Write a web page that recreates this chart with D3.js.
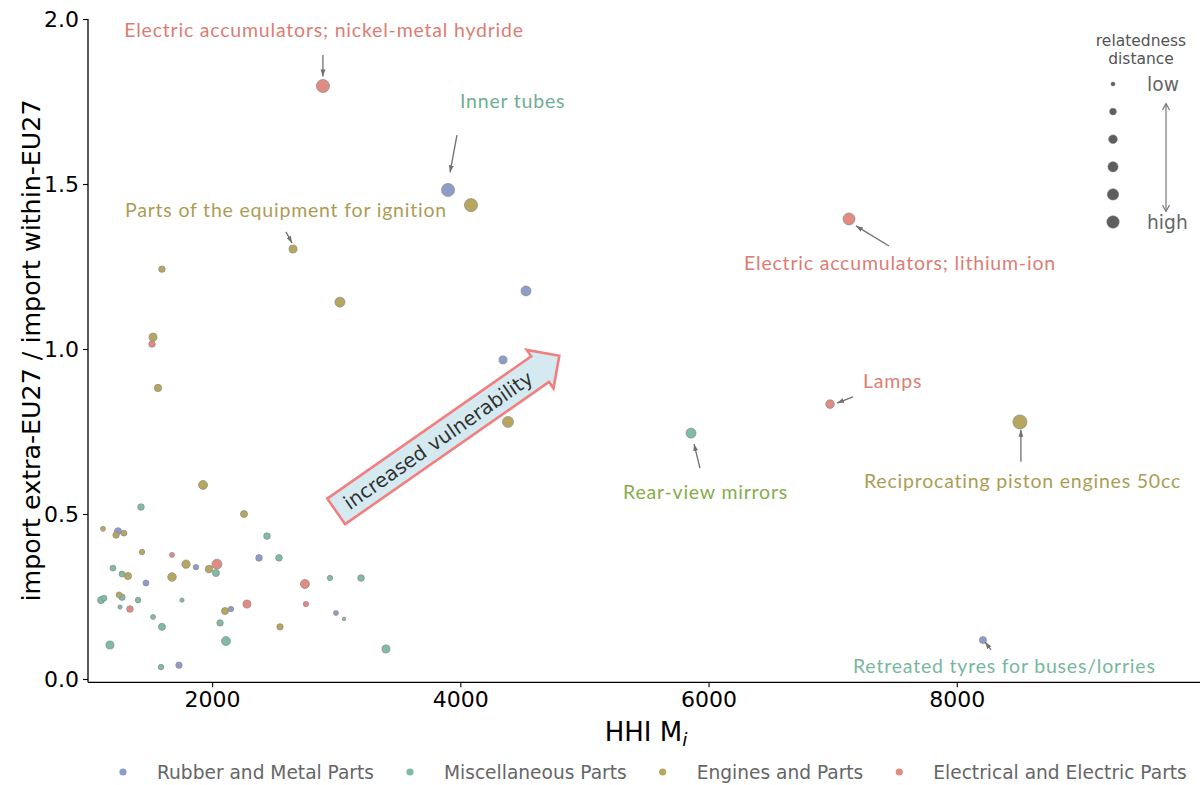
<!DOCTYPE html>
<html><head><meta charset="utf-8">
<script src="https://cdn.jsdelivr.net/npm/d3@7"></script>
<style>body{margin:0;background:#fff} svg{display:block}</style>
</head><body><svg id="chart" width="1202" height="785"></svg>
<script>
// ---------------- DATA ----------------
const categories = ["Rubber and Metal Parts", "Miscellaneous Parts", "Engines and Parts", "Electrical and Electric Parts"];
const categoryColors = ["#8d9dcb", "#7ebca4", "#b7a75e", "#e28b82"];

// Rubber and Metal Parts
const rubberHHI   = [1242, 1870, 2378, 1467, 2152, 1733, 2998, 3901, 4529, 4344, 8211];
const rubberRatio = [0.448, 0.339, 0.367, 0.291, 0.212, 0.042, 0.200, 1.482, 1.176, 0.967, 0.118];
const rubberDist  = [0.24, 0.14, 0.21, 0.17, 0.14, 0.20, 0.12, 0.82, 0.48, 0.31, 0.24];

// Miscellaneous Parts
const miscHHI   = [1427, 2442, 2031, 2539, 1201, 1274, 1105, 1129, 1274, 1403, 1757, 1258, 1524, 1596, 2064, 1177, 2112, 1588, 2950, 3200, 3063, 3401, 5859];
const miscRatio = [0.521, 0.433, 0.321, 0.367, 0.336, 0.318, 0.239, 0.245, 0.248, 0.239, 0.239, 0.218, 0.188, 0.158, 0.170, 0.103, 0.115, 0.036, 0.306, 0.306, 0.182, 0.091, 0.745];
const miscDist  = [0.21, 0.21, 0.24, 0.21, 0.17, 0.17, 0.24, 0.17, 0.20, 0.15, 0.09, 0.09, 0.12, 0.24, 0.20, 0.31, 0.39, 0.15, 0.14, 0.21, 0.06, 0.31, 0.48];

// Engines and Parts
const engHHI   = [2257, 1121, 1226, 1290, 1435, 1790, 1975, 1322, 1677, 1250, 2104, 2547, 1596, 1524, 1564, 1927, 4086, 2652, 3030, 4384, 8509];
const engRatio = [0.500, 0.455, 0.436, 0.442, 0.385, 0.348, 0.333, 0.312, 0.309, 0.255, 0.206, 0.158, 1.242, 1.036, 0.882, 0.588, 1.436, 1.303, 1.142, 0.779, 0.779];
const engDist  = [0.24, 0.12, 0.20, 0.17, 0.14, 0.34, 0.28, 0.25, 0.36, 0.17, 0.24, 0.20, 0.20, 0.31, 0.26, 0.39, 0.82, 0.31, 0.48, 0.58, 0.95];

// Electrical and Electric Parts
const elecHHI   = [1677, 2039, 1338, 2281, 2748, 2756, 1516, 2893, 7132, 6979];
const elecRatio = [0.376, 0.348, 0.212, 0.227, 0.288, 0.227, 1.015, 1.797, 1.394, 0.833];
const elecDist  = [0.12, 0.48, 0.21, 0.31, 0.39, 0.14, 0.21, 0.82, 0.69, 0.36];

const xTicks = [2000, 4000, 6000, 8000];
const yTicks = [0.0, 0.5, 1.0, 1.5, 2.0];
const sizeLegendValues = [0.08, 0.22, 0.36, 0.5, 0.62, 0.74];

// annotations: label text, colour, label anchor (data), arrow tail & head (data)
const annotations = [
  {text: "Electric accumulators; nickel-metal hydride", color: "#dc7d74", anchor: "middle", lx: 2902, ly: 1.967, ax: 2893, ay: 1.891, hx: 2893, hy: 1.826},
  {text: "Inner tubes", color: "#6fae93", anchor: "start", lx: 3997, ly: 1.752, ax: 3973, ay: 1.648, hx: 3917, hy: 1.535},
  {text: "Parts of the equipment for ignition", color: "#ab9d55", anchor: "start", lx: 1298, ly: 1.421, ax: 2595, ay: 1.355, hx: 2644, hy: 1.321},
  {text: "Electric accumulators; lithium-ion", color: "#dc7d74", anchor: "start", lx: 6286, ly: 1.261, ax: 7454, ay: 1.312, hx: 7188, hy: 1.373},
  {text: "Lamps", color: "#dc7d74", anchor: "start", lx: 7245, ly: 0.903, ax: 7164, ay: 0.855, hx: 7035, hy: 0.836},
  {text: "Rear-view mirrors", color: "#86ad4b", anchor: "start", lx: 5311, ly: 0.567, ax: 5931, ay: 0.639, hx: 5883, hy: 0.712},
  {text: "Reciprocating piston engines 50cc", color: "#ab9d55", anchor: "start", lx: 7252, ly: 0.600, ax: 8517, ay: 0.658, hx: 8517, hy: 0.755},
  {text: "Retreated tyres for buses/lorries", color: "#77b79c", anchor: "start", lx: 7164, ly: 0.039, ax: 8276, ay: 0.088, hx: 8229, hy: 0.112}
];

// ---------------- CHART ----------------
const series = [
  {hhi: rubberHHI, ratio: rubberRatio, dist: rubberDist},
  {hhi: miscHHI, ratio: miscRatio, dist: miscDist},
  {hhi: engHHI, ratio: engRatio, dist: engDist},
  {hhi: elecHHI, ratio: elecRatio, dist: elecDist}
];
const points = [];
series.forEach((s, ci) => s.hhi.forEach((h, i) => points.push({cat: ci, x: h, y: s.ratio[i], d: s.dist[i]})));

const svg = d3.select("#chart");
const x = d3.scaleLinear().domain([1000, 9960]).range([88, 1200]);
const y = d3.scaleLinear().domain([-0.01, 2.0]).range([682.3, 19]);
const r = d3.scaleSqrt().domain([0, 1]).range([0, 7.2]);
const color = d3.scaleOrdinal().domain(d3.range(categories.length)).range(categoryColors);

const defs = svg.append("defs");
defs.append("marker").attr("id", "ah").attr("viewBox", "0 0 10 10").attr("refX", 10).attr("refY", 5)
  .attr("markerWidth", 7).attr("markerHeight", 7).attr("markerUnits", "userSpaceOnUse").attr("orient", "auto")
  .append("path").attr("d", "M0,1.5 L10,5 L0,8.5 Z").attr("fill", "#707070");

// axes
const xAxis = svg.append("g").attr("transform", "translate(0,682.3)")
  .call(d3.axisBottom(x).tickValues(xTicks).tickFormat(d3.format("d")).tickSizeOuter(0).tickSize(5).tickPadding(4));
const yAxis = svg.append("g").attr("transform", "translate(88,0)")
  .call(d3.axisLeft(y).tickValues(yTicks).tickFormat(d3.format(".1f")).tickSizeOuter(0).tickSize(5).tickPadding(4));
[xAxis, yAxis].forEach(g => {
  g.select(".domain").attr("stroke", "#000").attr("stroke-width", 1.3);
  g.selectAll(".tick line").attr("stroke", "#000").attr("stroke-width", 1.1);
  g.selectAll(".tick text").attr("font-family", "DejaVu Sans").attr("font-size", 22).attr("fill", "#000");
});
xAxis.select(".domain").attr("d", `M88,0H1200`);
yAxis.select(".domain").attr("d", `M0,${y(2.0)}V682.3`);

// axis labels
svg.append("text").attr("transform", `translate(40,${(19 + 682) / 2}) rotate(-90)`)
  .attr("text-anchor", "middle").attr("font-family", "DejaVu Sans").attr("font-size", 25.3).attr("fill", "#000")
  .text("import extra-EU27 / import within-EU27");
const xl = svg.append("text").attr("x", 646).attr("y", 741).attr("text-anchor", "middle")
  .attr("font-family", "DejaVu Sans").attr("font-size", 26).attr("fill", "#000");
xl.append("tspan").text("HHI M");
xl.append("tspan").attr("font-style", "italic").attr("font-size", 18.5).attr("dy", 5).text("i");

// points
svg.append("g").selectAll("circle").data(points).join("circle")
  .attr("cx", d => x(d.x)).attr("cy", d => y(d.y)).attr("r", d => r(d.d))
  .attr("fill", d => color(d.cat)).attr("stroke", "#8a8a8a").attr("stroke-width", 0.7);

// annotations
const ann = svg.append("g");
annotations.forEach(a => {
  ann.append("line").attr("x1", x(a.ax)).attr("y1", y(a.ay)).attr("x2", x(a.hx)).attr("y2", y(a.hy))
    .attr("stroke", "#707070").attr("stroke-width", 1.3).attr("marker-end", "url(#ah)");
  ann.append("text").attr("x", x(a.lx)).attr("y", y(a.ly)).attr("dy", "0.35em")
    .attr("text-anchor", a.anchor).attr("font-family", "Lato").attr("font-size", 19.5)
    .attr("letter-spacing", 0.8).attr("fill", a.color)
    .text(a.text);
});

// big vulnerability arrow (rarrow box)
const arrowAnchor = {x: 3000, y: 0.508};
const shaftLen = 248.6, hh = 15.6, head = hh / 2;
const bigArrow = svg.append("g")
  .attr("transform", `translate(${x(arrowAnchor.x)},${y(arrowAnchor.y)}) rotate(-34.9)`);
bigArrow.append("path")
  .attr("d", `M0,${-hh} L${shaftLen},${-hh} L${shaftLen},${-hh - head} L${shaftLen + hh + head},0 L${shaftLen},${hh + head} L${shaftLen},${hh} L0,${hh} Z`)
  .attr("fill", "#d5eaf0").attr("stroke", "#f08080").attr("stroke-width", 2.6).attr("stroke-linejoin", "miter");
bigArrow.append("text").attr("x", shaftLen / 2).attr("y", 0).attr("dy", "0.35em").attr("text-anchor", "middle")
  .attr("font-family", "DejaVu Sans").attr("font-size", 19.8).attr("fill", "#333").text("increased vulnerability");

// size legend
const sl = svg.append("g");
sl.append("text").attr("x", 1141).attr("y", 46).attr("text-anchor", "middle").attr("font-family", "DejaVu Sans")
  .attr("font-size", 15.5).attr("fill", "#555").text("relatedness");
sl.append("text").attr("x", 1141).attr("y", 64).attr("text-anchor", "middle").attr("font-family", "DejaVu Sans")
  .attr("font-size", 15.5).attr("fill", "#555").text("distance");
const legY = d3.scalePoint().domain(d3.range(sizeLegendValues.length)).range([84, 222]);
sl.selectAll("circle").data(sizeLegendValues).join("circle")
  .attr("cx", 1113).attr("cy", (d, i) => legY(i)).attr("r", d => r(d))
  .attr("fill", "#5e5e5e").attr("stroke", "#777").attr("stroke-width", 0.6);
sl.append("text").attr("x", 1147).attr("y", legY(0)).attr("dy", "0.35em").attr("font-family", "DejaVu Sans")
  .attr("font-size", 18.7).attr("fill", "#666").text("low");
sl.append("text").attr("x", 1147).attr("y", legY(5)).attr("dy", "0.35em").attr("font-family", "DejaVu Sans")
  .attr("font-size", 18.7).attr("fill", "#666").text("high");
sl.append("line").attr("x1", 1166).attr("x2", 1166).attr("y1", 104).attr("y2", 211).attr("stroke", "#777").attr("stroke-width", 1.2);
sl.append("path").attr("d", "M1162.5,110 L1166,103.5 L1169.5,110 M1162.5,205 L1166,211.5 L1169.5,205")
  .attr("fill", "none").attr("stroke", "#777").attr("stroke-width", 1.2);

// category legend (bottom)
const cl = svg.append("g");
let cx = 123;
categories.forEach((c, i) => {
  cl.append("circle").attr("cx", cx).attr("cy", 772).attr("r", 3.6).attr("fill", categoryColors[i]);
  const t = cl.append("text").attr("x", cx + 34).attr("y", 772).attr("dy", "0.35em").attr("font-family", "DejaVu Sans")
    .attr("font-size", 18.6).attr("fill", "#666").text(c);
  cx = cx + 34 + t.node().getComputedTextLength() + 36;
});
</script>
</body></html>
